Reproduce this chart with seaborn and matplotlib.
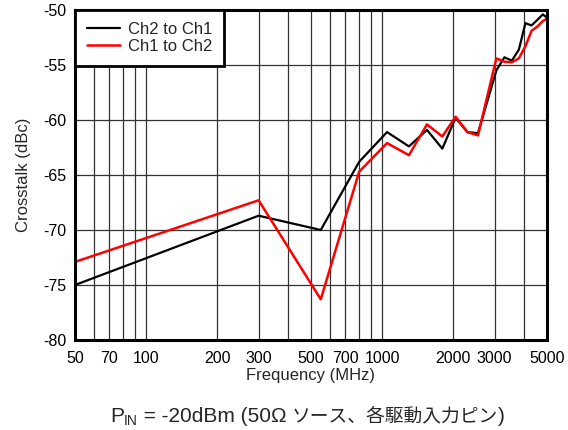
import numpy as np
import pandas as pd
import matplotlib
matplotlib.use("Agg")
import matplotlib.pyplot as plt
from matplotlib.ticker import NullLocator
from matplotlib.lines import Line2D
import seaborn as sns

# ---- data ----
freq_mhz = [50, 300, 550, 800, 1050, 1300, 1550, 1800, 2050, 2300, 2550,
            3050, 3300, 3550, 3800, 4050, 4300, 4550, 4800, 5000]
ch2_to_ch1 = [-75.0, -68.7, -70.0, -63.8, -61.1, -62.4, -60.9, -62.6, -59.8, -61.1, -61.2,
              -55.5, -54.3, -54.6, -53.6, -51.2, -51.4, -50.9, -50.4, -50.7]
ch1_to_ch2 = [-72.9, -67.3, -76.3, -64.7, -62.1, -63.2, -60.4, -61.5, -59.7, -61.1, -61.4,
              -54.4, -54.7, -54.75, -54.4, -53.3, -51.9, -51.5, -51.0, -50.8]
series_names = ["Ch2 to Ch1", "Ch1 to Ch2"]
x_label_ticks = [50, 70, 100, 200, 300, 500, 700, 1000, 2000, 3000, 5000]
x_grid_ticks = [50, 60, 70, 80, 90, 100, 200, 300, 400, 500, 600, 700, 800, 900,
                1000, 2000, 3000, 4000, 5000]
y_ticks = [-80, -75, -70, -65, -60, -55, -50]
x_title = "Frequency (MHz)"
y_title = "Crosstalk (dBc)"
caption_main = "P"
caption_sub = "IN"
caption_latin = " = -20dBm (50Ω "
caption_cjk = "ソース、各駆動入力ピン"
caption_close = ")"

df = pd.DataFrame({
    "freq": freq_mhz * 2,
    "crosstalk": ch2_to_ch1 + ch1_to_ch2,
    "series": [series_names[0]] * len(freq_mhz) + [series_names[1]] * len(freq_mhz),
})

sns.set_style("white")
LATIN = ["Liberation Sans", "DejaVu Sans"]
CJK = ["Noto Sans CJK JP", "DejaVu Sans"]
plt.rcParams["font.family"] = ["Liberation Sans", "Noto Sans CJK JP", "DejaVu Sans"]

W, H = 568, 430
fig = plt.figure(figsize=(W / 100, H / 100), dpi=100)
ax = fig.add_axes([75 / W, 1 - 340 / H, (547 - 75) / W, 330 / H])

sns.lineplot(data=df, x="freq", y="crosstalk", hue="series", hue_order=series_names,
             palette=["#000000", "#ff0000"], linewidth=1.6, ax=ax, legend=False,
             zorder=3, estimator=None, sort=False)
if len(ax.lines) >= 2:
    ax.lines[1].set_linewidth(1.8)

ax.set_xscale("log")
ax.set_xlim(50, 5000)
ax.set_ylim(-80, -50)
ax.set_xticks(x_grid_ticks)
ax.set_xticklabels([str(t) if t in x_label_ticks else "" for t in x_grid_ticks])
ax.xaxis.set_minor_locator(NullLocator())
ax.set_yticks(y_ticks)
ax.set_yticklabels([str(t) for t in y_ticks])
ax.tick_params(axis="both", length=0, labelsize=11.5, colors="black")
ax.tick_params(axis="x", pad=8)
ax.tick_params(axis="y", pad=6)

ax.grid(True, which="major", color="#333333", linewidth=0.9)
ax.set_axisbelow(True)
for s in ax.spines.values():
    s.set_visible(True)
    s.set_color("black")
    s.set_linewidth(2.2)
    s.set_zorder(5)

ax.set_xlabel(x_title, fontsize=12)
ax.set_ylabel(y_title, fontsize=12)
ax.xaxis.set_label_coords(0.5, -0.086)
ax.yaxis.set_label_coords(-0.094, 0.5)

handles = [Line2D([], [], color="#000000", lw=1.6), Line2D([], [], color="#ff0000", lw=1.8)]
leg = ax.legend(handles, series_names, loc="upper left", bbox_to_anchor=(0, 1),
                borderaxespad=0, fancybox=False, framealpha=1, edgecolor="black",
                fontsize=12, handlelength=2.0, handletextpad=0.5,
                borderpad=0.7, labelspacing=0.15)
leg.get_frame().set_linewidth(2.0)
leg.set_zorder(6)

# caption laid out piece by piece on a common baseline (pixel units)
renderer = fig.canvas.get_renderer()
base = 421.5


def place(txt, x_px, size, family, dy=0.0):
    t = fig.text(x_px / W, 1 - (base + dy) / H, txt, fontsize=size, family=family,
                 ha="left", va="baseline")
    bb = t.get_window_extent(renderer)
    return bb.x1


x = 110.0
x = place(caption_main, x, 15, LATIN)
x = place(caption_sub, x, 10, LATIN, dy=3.5)
x = place(caption_latin, x, 15, LATIN)
x = place(caption_cjk, x - 1, 13.5, CJK)
x = place(caption_close, x, 15, LATIN)

fig.savefig("out.png", dpi=100)
